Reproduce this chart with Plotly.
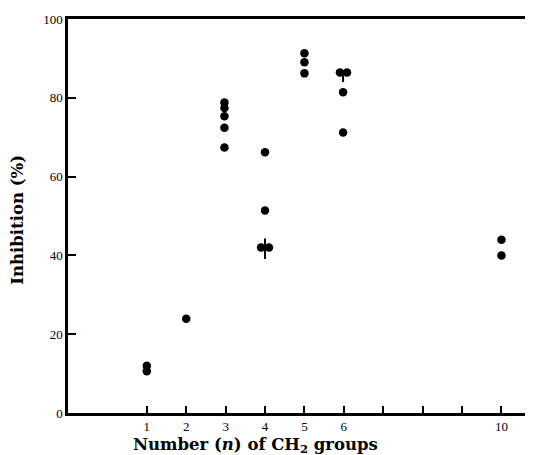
import plotly.graph_objects as go

# Data
n_groups = [1, 1, 2, 2.97, 2.97, 2.97, 2.97, 2.97, 3.9, 4.1, 4.0, 4.0, 5, 5, 5, 5.9, 6.08, 5.98, 5.98, 10, 10]
inhibition = [12.0, 10.6, 23.9, 78.8, 77.4, 75.3, 72.4, 67.4, 42.0, 42.0, 51.4, 66.2, 91.3, 89.0, 86.2, 86.4, 86.4, 81.4, 71.2, 44.0, 40.0]

err_x = [4.0, 5.98]
err_y = [42.0, 85.6]
err_plus = [2.3, 0.3]
err_minus = [2.9, 1.6]

x_tickvals = [1, 2, 3, 4, 5, 6, 10]
x_ticktext = ["1", "2", "3", "4", "5", "6", "10"]
x_minor_ticks = [7, 8, 9]
y_tickvals = [0, 20, 40, 60, 80, 100]

serif = "Liberation Serif, Times New Roman, serif"
title_font = "DejaVu Serif, serif"

fig = go.Figure()
fig.add_trace(go.Scatter(
    x=err_x, y=err_y, mode="markers",
    marker=dict(size=1, color="black", opacity=0),
    error_y=dict(type="data", symmetric=False, array=err_plus, arrayminus=err_minus,
                 color="black", thickness=2, width=0),
    showlegend=False, hoverinfo="skip"))
fig.add_trace(go.Scatter(
    x=n_groups, y=inhibition, mode="markers",
    marker=dict(size=8.5, color="black", line=dict(width=0)),
    showlegend=False))

# page body has an 8px margin, so the figure is shifted by 8px
fig.update_layout(
    width=525, height=447,
    margin=dict(l=60, r=0, t=11, b=42),
    paper_bgcolor="white", plot_bgcolor="white",
    font=dict(family=serif, color="black", size=13),
    xaxis=dict(range=[-1.0, 10.8], tickvals=x_tickvals, ticktext=x_ticktext,
               ticks="inside", ticklen=7, tickwidth=1.5, tickcolor="black",
               minor=dict(tickvals=x_minor_ticks, ticks="inside", ticklen=7,
                          tickwidth=1.5, tickcolor="black", showgrid=False),
               showline=True, linecolor="black", linewidth=2.5, mirror=True,
               showgrid=False, zeroline=False,
               tickfont=dict(family=serif, size=13, color="black")),
    yaxis=dict(range=[0, 100], tickvals=y_tickvals,
               ticks="inside", ticklen=8, tickwidth=1.5, tickcolor="black",
               showline=True, linecolor="black", linewidth=2.5, mirror=False,
               showgrid=False, zeroline=False,
               tickfont=dict(family=serif, size=13, color="black")),
    annotations=[
        dict(text="<b>Number (<i>n</i>) of CH<sub>2</sub> groups</b>",
             xref="paper", yref="paper", x=0.404, y=-0.083,
             xanchor="center", yanchor="middle", showarrow=False,
             font=dict(family=title_font, size=16.5, color="black")),
        dict(text="<b>Inhibition (%)</b>",
             xref="paper", yref="paper", x=-0.108, y=0.49,
             xanchor="center", yanchor="middle", textangle=-90, showarrow=False,
             font=dict(family=title_font, size=16.5, color="black")),
    ],
)

fig.write_html("out.html")
